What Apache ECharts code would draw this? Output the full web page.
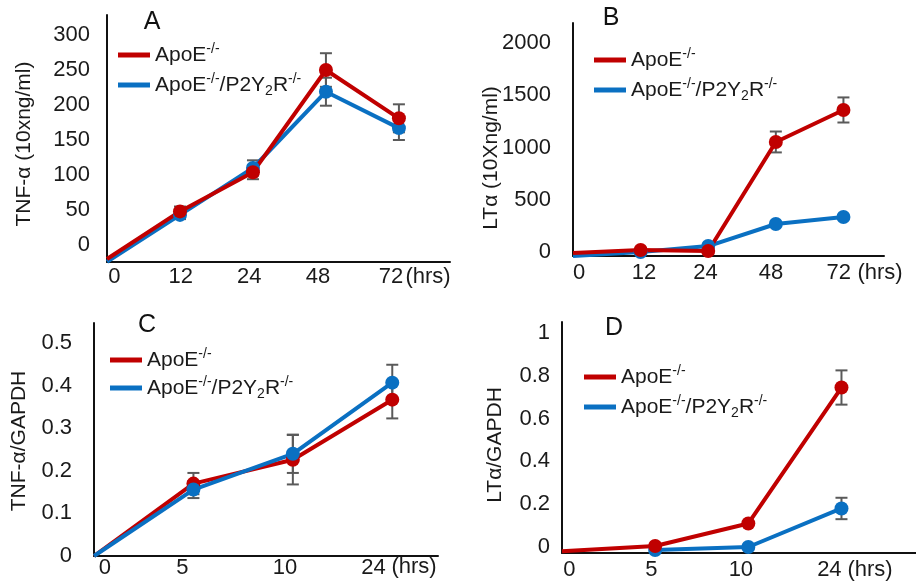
<!DOCTYPE html>
<html>
<head>
<meta charset="utf-8">
<script src="https://cdn.jsdelivr.net/npm/echarts@6/dist/echarts.min.js"></script>
<style>
html, body { margin: 0; padding: 0; background: #fff; }
#main { width: 916px; height: 583px; }
</style>
</head>
<body>
<div id="main"></div>
<script>
var seriesNames = ['ApoE-/-', 'ApoE-/-/P2Y2R-/-'];
var hrsLong = ['0', '12', '24', '48', '72'];
var hrsShort = ['0', '5', '10', '24'];

// A: TNF-a (10xng/ml)
var tnfApoE = [-20, 48, 104, 250, 181];
var tnfDko = [-24, 43, 110, 219, 167];
var tnfApoEErr = [0, 7, 10, 24, 20];
var tnfDkoErr = [0, 6, 11, 20, 17];
var yTicksA = [0, 50, 100, 150, 200, 250, 300];

// B: LTa (10Xng/ml)
var ltApoE = [-10, 19, 10, 1053, 1359];
var ltDko = [-38, 0, 57, 268, 335];
var ltApoEErr = [0, 0, 0, 100, 120];
var ltDkoErr = [0, 0, 0, 0, 0];
var yTicksB = [0, 500, 1000, 1500, 2000];

// C: TNF-a/GAPDH
var tnfRatioApoE = [0, 0.17, 0.226, 0.367];
var tnfRatioDko = [0, 0.156, 0.24, 0.407];
var tnfRatioApoEErr = [0, 0.025, 0.058, 0.044];
var tnfRatioDkoErr = [0, 0.02, 0.045, 0.042];
var yTicksC = [0, 0.1, 0.2, 0.3, 0.4, 0.5];

// D: LTa/GAPDH
var ltRatioApoE = [-0.02, 0.005, 0.11, 0.745];
var ltRatioDko = [null, -0.014, 0, 0.18];
var ltRatioApoEErr = [0, 0, 0, 0.08];
var ltRatioDkoErr = [0, 0, 0, 0.05];
var yTicksD = [0, 0.2, 0.4, 0.6, 0.8, 1];

var RED = '#c00000';
var BLUE = '#0a70c2';
var FONT = 'Liberation Sans, Arial, sans-serif';

var panels = [
    {grid: {left: 107, top: 15, width: 343, height: 247}, xMax: 4.7, yMin: -24.3, yMax: 328.6,
     xPos: [0.1, 1.01, 1.95, 2.89, 3.89], xLabels: hrsLong, yTicks: yTicksA, yMargin: 17, xMargin: 4,
     apo: tnfApoE, dko: tnfDko, apoErr: tnfApoEErr, dkoErr: tnfDkoErr, blueTop: false,
     letter: ['A', 152, 22], yName: ['TNF-\u03b1 (10xng/ml)', 24, 144], hrs: [428, 277],
     legend: {left: 118, top: 42}, gap: 4},
    {grid: {left: 573, top: 23, width: 311, height: 233}, xMax: 4.6, yMin: -38, yMax: 2191,
     xPos: [0.09, 1.05, 1.96, 2.93, 3.93], xLabels: hrsLong, yTicks: yTicksB, yMargin: 22, xMargin: 6,
     apo: ltApoE, dko: ltDko, apoErr: ltApoEErr, dkoErr: ltDkoErr, blueTop: false,
     letter: ['B', 611, 18], yName: ['LT\u03b1 (10Xng/ml)', 491, 158], hrs: [880, 273],
     legend: {left: 594, top: 47}, gap: 4},
    {grid: {left: 94, top: 323, width: 344, height: 233}, xMax: 3.46, yMin: 0, yMax: 0.547,
     xPos: [0.11, 0.89, 1.92, 2.81], xLabels: hrsShort, yTicks: yTicksC, yMargin: 22, xMargin: 1,
     apo: tnfRatioApoE, dko: tnfRatioDko, apoErr: tnfRatioApoEErr, dkoErr: tnfRatioDkoErr, blueTop: true,
     letter: ['C', 147, 325], yName: ['TNF-\u03b1/GAPDH', 19, 441], hrs: [414, 567],
     legend: {left: 110, top: 347}, gap: 2},
    {grid: {left: 562, top: 322, width: 354, height: 231}, xMax: 3.8, yMin: -0.028, yMax: 1.051,
     xPos: [0.08, 0.96, 1.92, 2.87], xLabels: hrsShort, yTicks: yTicksD, yMargin: 12, xMargin: 6,
     apo: ltRatioApoE, dko: ltRatioDko, apoErr: ltRatioApoEErr, dkoErr: ltRatioDkoErr, blueTop: false,
     letter: ['D', 614, 328], yName: ['LT\u03b1/GAPDH', 495, 445], hrs: [870, 570],
     legend: {left: 584, top: 364}, gap: 4}
];

var grids = [], xAxes = [], yAxes = [], series = [], legends = [], graphics = [];

function lineSeries(i, name, vals, color) {
    return {
        name: name,
        type: 'line',
        xAxisIndex: i,
        yAxisIndex: i,
        data: vals.map(function (v, j) { return [j, v]; }),
        symbol: function (val, params) { return params.dataIndex === 0 ? 'none' : 'circle'; },
        symbolSize: 14,
        lineStyle: {color: color, width: 4},
        itemStyle: {color: color},
        emphasis: {disabled: true}
    };
}

panels.forEach(function (p, i) {
    grids.push(p.grid);
    xAxes.push({
        type: 'value', gridIndex: i, min: 0, max: p.xMax,
        axisLine: {onZero: false, lineStyle: {color: '#111', width: 2}},
        axisTick: {show: false},
        splitLine: {show: false},
        axisLabel: {
            customValues: p.xPos,
            margin: p.xMargin,
            color: '#1a1a1a', fontSize: 22, fontFamily: FONT,
            formatter: function (v) {
                var k = p.xPos.indexOf(v);
                return k >= 0 ? p.xLabels[k] : '';
            }
        }
    });
    yAxes.push({
        type: 'value', gridIndex: i, min: p.yMin, max: p.yMax,
        axisLine: {show: true, onZero: false, lineStyle: {color: '#111', width: 2}},
        axisTick: {show: false},
        splitLine: {show: false},
        axisLabel: {
            customValues: p.yTicks,
            margin: p.yMargin,
            color: '#1a1a1a', fontSize: 22, fontFamily: FONT,
            formatter: function (v) { return String(v); }
        }
    });

    // error bars
    var bars = [];
    p.apo.forEach(function (v, j) {
        if (p.apoErr[j] > 0) bars.push([j, v - p.apoErr[j], v + p.apoErr[j]]);
    });
    p.dko.forEach(function (v, j) {
        if (p.dkoErr[j] > 0) bars.push([j, v - p.dkoErr[j], v + p.dkoErr[j]]);
    });
    series.push({
        type: 'custom',
        xAxisIndex: i,
        yAxisIndex: i,
        data: bars,
        silent: true,
        renderItem: function (params, api) {
            var top = api.coord([api.value(0), api.value(2)]);
            var bot = api.coord([api.value(0), api.value(1)]);
            var st = {stroke: '#5a5a5a', lineWidth: 2};
            return {
                type: 'group',
                children: [
                    {type: 'line', shape: {x1: top[0], y1: top[1], x2: bot[0], y2: bot[1]}, style: st},
                    {type: 'line', shape: {x1: top[0] - 6, y1: top[1], x2: top[0] + 6, y2: top[1]}, style: st},
                    {type: 'line', shape: {x1: bot[0] - 6, y1: bot[1], x2: bot[0] + 6, y2: bot[1]}, style: st}
                ]
            };
        }
    });

    if (p.blueTop) {
        series.push(lineSeries(i, seriesNames[0], p.apo, RED));
        series.push(lineSeries(i, seriesNames[1], p.dko, BLUE));
    } else {
        series.push(lineSeries(i, seriesNames[1], p.dko, BLUE));
        series.push(lineSeries(i, seriesNames[0], p.apo, RED));
    }

    legends.push({
        data: seriesNames,
        orient: 'vertical',
        left: p.legend.left,
        top: p.legend.top,
        padding: 0,
        itemGap: p.gap,
        icon: 'rect',
        itemWidth: 32,
        itemHeight: 5,
        selectedMode: false,
        textStyle: {
            fontSize: 21, fontFamily: FONT, color: '#1a1a1a', lineHeight: 26,
            rich: {
                sup: {fontSize: 14, fontFamily: FONT, color: '#1a1a1a', lineHeight: 14, verticalAlign: 'top'},
                sub: {fontSize: 14, fontFamily: FONT, color: '#1a1a1a', lineHeight: 6, verticalAlign: 'bottom'}
            }
        },
        formatter: function (name) {
            if (name === seriesNames[0]) return 'ApoE{sup|-/-}';
            return 'ApoE{sup|-/-}/P2Y{sub|2}R{sup|-/-}';
        }
    });

    graphics.push({
        type: 'text', x: p.letter[1], y: p.letter[2],
        style: {text: p.letter[0], font: '25px ' + FONT, fill: '#111', align: 'center', verticalAlign: 'middle'}
    });
    graphics.push({
        type: 'text', x: p.yName[1], y: p.yName[2], rotation: Math.PI / 2,
        style: {text: p.yName[0], font: '21px ' + FONT, fill: '#1a1a1a', align: 'center', verticalAlign: 'middle'}
    });
    graphics.push({
        type: 'text', x: p.hrs[0], y: p.hrs[1],
        style: {text: '(hrs)', font: '22px ' + FONT, fill: '#1a1a1a', align: 'center', verticalAlign: 'middle'}
    });
});

var chart = echarts.init(document.getElementById('main'));
chart.setOption({
    animation: false,
    backgroundColor: '#fff',
    grid: grids,
    xAxis: xAxes,
    yAxis: yAxes,
    legend: legends,
    series: series,
    graphic: graphics
});
window.onresize = chart.resize;
</script>
</body>
</html>
